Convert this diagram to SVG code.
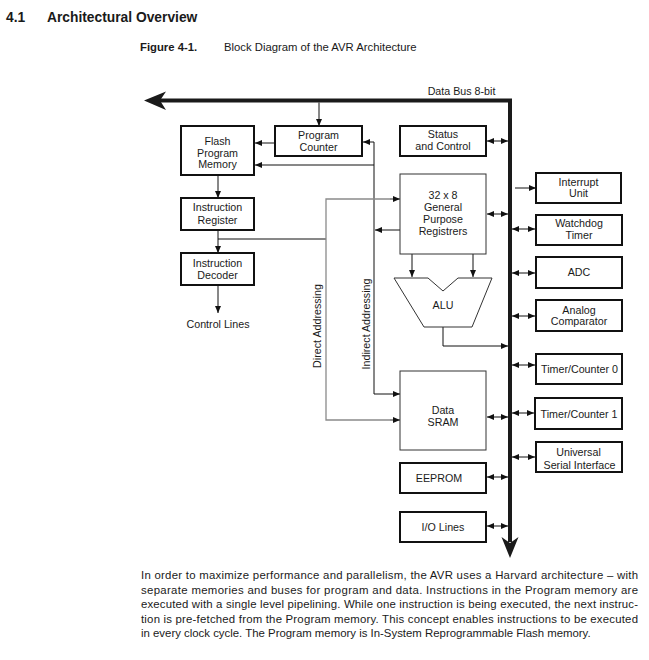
<svg xmlns="http://www.w3.org/2000/svg" width="649" height="660" viewBox="0 0 649 660">
<style>
  text { font-family: "Liberation Sans", Arial, sans-serif; fill: #1a1a1a; }
  .t { font-size: 10.7px; text-anchor: middle; }
  .box { fill: #fff; stroke: #111; stroke-width: 2; }
  .thin { fill: #fff; stroke: #333; stroke-width: 1; }
  .ln { fill: none; stroke: #111; stroke-width: 1; }
  .gr { fill: none; stroke: #8a8a8a; stroke-width: 1.3; }
  .bus { fill: none; stroke: #1a1a1a; stroke-width: 4; }
  .para { font-size: 11.4px; }
</style>
<defs>
  <marker id="ah" markerUnits="userSpaceOnUse" markerWidth="8" markerHeight="6" refX="7" refY="3" orient="auto-start-reverse">
    <path d="M0,0 L7,3 L0,6 z" fill="#111"/>
  </marker>
</defs>
<rect width="649" height="660" fill="#fff"/>

<g id="heading">
  <text x="6" y="22" style="font-size:13.8px;font-weight:bold">4.1</text>
  <text x="47" y="22" style="font-size:13.8px;font-weight:bold">Architectural Overview</text>
  <text x="140" y="51" style="font-size:11.3px;font-weight:bold">Figure 4-1.</text>
  <text x="224" y="51" style="font-size:11.3px">Block Diagram of the AVR Architecture</text>
</g>

<g id="connectors">
  <!-- data bus -->
  <path class="bus" d="M160,100.5 H510 V542"/>
  <polygon points="144,100.5 166,91.5 160,100.5 166,110" fill="#1a1a1a"/>
  <polygon points="510,558 501.5,537 510,543 518.5,537" fill="#1a1a1a"/>
  <text class="t" x="461.5" y="95">Data Bus 8-bit</text>

  <!-- bus to program counter -->
  <line class="ln" x1="319" y1="102.5" x2="319" y2="126" marker-end="url(#ah)"/>
  <!-- PC to flash -->
  <line class="ln" x1="275" y1="143" x2="255" y2="143" marker-end="url(#ah)"/>
  <!-- indirect addressing -->
  <path class="ln" d="M374,142 V394"/>
  <line class="ln" x1="374" y1="142" x2="363" y2="142" marker-end="url(#ah)"/>
  <line class="ln" x1="374" y1="165" x2="255" y2="165" marker-end="url(#ah)"/>
  <line class="ln" x1="374" y1="394" x2="400" y2="394" marker-end="url(#ah)"/>
  <line class="ln" x1="400" y1="230" x2="375" y2="230" marker-end="url(#ah)"/>
  <!-- flash to IR, IR to ID, ID to control lines -->
  <line class="ln" x1="218" y1="175" x2="218" y2="198" marker-end="url(#ah)"/>
  <line class="ln" x1="218" y1="230" x2="218" y2="253" marker-end="url(#ah)"/>
  <line class="ln" x1="218" y1="285" x2="218" y2="313" marker-end="url(#ah)"/>
  <!-- direct addressing -->
  <line class="ln" x1="218" y1="239" x2="326" y2="239"/>
  <path class="gr" d="M400,199 H326 V420 H400"/>
  <line class="gr" x1="390" y1="199" x2="400" y2="199" marker-end="url(#ah)"/>
  <line class="gr" x1="390" y1="420" x2="400" y2="420" marker-end="url(#ah)"/>
  <!-- registers to ALU -->
  <line class="ln" x1="412" y1="254" x2="412" y2="277" marker-end="url(#ah)"/>
  <line class="ln" x1="473" y1="254" x2="473" y2="277" marker-end="url(#ah)"/>
  <!-- ALU to bus -->
  <path class="ln" d="M443,327 V346 H508" stroke="#555" marker-end="url(#ah)"/>
  <!-- left bidirectional -->
  <line class="ln" x1="487" y1="141" x2="508" y2="141" marker-start="url(#ah)" marker-end="url(#ah)"/>
  <line class="ln" x1="487" y1="214" x2="508" y2="214" marker-start="url(#ah)" marker-end="url(#ah)"/>
  <line class="ln" x1="487" y1="417" x2="508" y2="417" marker-start="url(#ah)" marker-end="url(#ah)"/>
  <line class="ln" x1="487" y1="477" x2="508" y2="477" marker-start="url(#ah)" marker-end="url(#ah)"/>
  <line class="ln" x1="487" y1="526" x2="508" y2="526" marker-start="url(#ah)" marker-end="url(#ah)"/>
  <!-- right side -->
  <line class="ln" x1="515" y1="188" x2="536" y2="188" marker-end="url(#ah)"/>
  <line class="ln" x1="512" y1="229" x2="535" y2="229" marker-start="url(#ah)" marker-end="url(#ah)"/>
  <line class="ln" x1="512" y1="273" x2="535" y2="273" marker-start="url(#ah)" marker-end="url(#ah)"/>
  <line class="ln" x1="512" y1="316" x2="535" y2="316" marker-start="url(#ah)" marker-end="url(#ah)"/>
  <line class="ln" x1="512" y1="365" x2="535" y2="365" marker-start="url(#ah)" marker-end="url(#ah)"/>
  <line class="ln" x1="512" y1="413" x2="534" y2="413" marker-start="url(#ah)" marker-end="url(#ah)"/>
  <line class="ln" x1="512" y1="457" x2="535" y2="457" marker-start="url(#ah)" marker-end="url(#ah)"/>
  <!-- rotated labels -->
  <text class="t" transform="translate(321,326) rotate(-90)">Direct Addressing</text>
  <text class="t" transform="translate(370,324) rotate(-90)">Indirect Addressing</text>
  <text class="t" x="218" y="328">Control Lines</text>
</g>

<g id="program-counter">
  <rect class="box" x="275" y="126" width="87" height="30"/>
  <text class="t" x="318.5" y="139">Program</text>
  <text class="t" x="318.5" y="151">Counter</text>
</g>
<g id="flash">
  <rect class="box" x="181" y="126" width="73" height="49"/>
  <text class="t" x="217.5" y="145">Flash</text>
  <text class="t" x="217.5" y="157">Program</text>
  <text class="t" x="217.5" y="168">Memory</text>
</g>
<g id="instruction-register">
  <rect class="box" x="181" y="198" width="73" height="32"/>
  <text class="t" x="217.5" y="211">Instruction</text>
  <text class="t" x="217.5" y="224">Register</text>
</g>
<g id="instruction-decoder">
  <rect class="box" x="181" y="253" width="73" height="32"/>
  <text class="t" x="217.5" y="267">Instruction</text>
  <text class="t" x="217.5" y="279">Decoder</text>
</g>
<g id="status">
  <rect class="box" x="400" y="126" width="86" height="30"/>
  <text class="t" x="443" y="138">Status</text>
  <text class="t" x="443" y="150">and Control</text>
</g>
<g id="registers">
  <rect class="thin" x="400" y="174" width="86" height="80"/>
  <text class="t" x="443" y="199">32 x 8</text>
  <text class="t" x="443" y="211">General</text>
  <text class="t" x="443" y="223">Purpose</text>
  <text class="t" x="443" y="235">Registrers</text>
</g>
<g id="alu">
  <polygon class="thin" points="394,278 428,278 443,291 458,278 492,278 472,327 424,327"/>
  <text class="t" x="443" y="309">ALU</text>
</g>
<g id="sram">
  <rect class="thin" x="400" y="371" width="86" height="79"/>
  <text class="t" x="443" y="414">Data</text>
  <text class="t" x="443" y="426">SRAM</text>
</g>
<g id="eeprom">
  <rect class="box" x="400" y="463" width="86" height="30"/>
  <text class="t" x="439" y="482">EEPROM</text>
</g>
<g id="io-lines">
  <rect class="box" x="400" y="512" width="86" height="30"/>
  <text class="t" x="443" y="531">I/O Lines</text>
</g>
<g id="interrupt">
  <rect class="box" x="536" y="173" width="85" height="30"/>
  <text class="t" x="578.5" y="186">Interrupt</text>
  <text class="t" x="578.5" y="197">Unit</text>
</g>
<g id="watchdog">
  <rect class="box" x="536" y="215" width="86" height="30"/>
  <text class="t" x="579" y="227">Watchdog</text>
  <text class="t" x="579" y="239">Timer</text>
</g>
<g id="adc">
  <rect class="box" x="536" y="257" width="86" height="31"/>
  <text class="t" x="579" y="276">ADC</text>
</g>
<g id="comparator">
  <rect class="box" x="536" y="300" width="86" height="31"/>
  <text class="t" x="579" y="314">Analog</text>
  <text class="t" x="579" y="325">Comparator</text>
</g>
<g id="timer0">
  <rect class="box" x="536" y="354" width="86" height="30"/>
  <text class="t" x="579.5" y="373">Timer/Counter 0</text>
</g>
<g id="timer1">
  <rect class="box" x="535" y="398" width="87" height="31"/>
  <text class="t" x="579" y="418">Timer/Counter 1</text>
</g>
<g id="usi">
  <rect class="box" x="536" y="442" width="86" height="30"/>
  <text class="t" x="578.5" y="456">Universal</text>
  <text class="t" x="579.5" y="469">Serial Interface</text>
</g>

<g id="paragraph">
  <text class="para" x="141" y="579" textLength="497" lengthAdjust="spacing">In order to maximize performance and parallelism, the AVR uses a Harvard architecture – with</text>
  <text class="para" x="141" y="593.5" textLength="497" lengthAdjust="spacing">separate memories and buses for program and data. Instructions in the Program memory are</text>
  <text class="para" x="141" y="608" textLength="497" lengthAdjust="spacing">executed with a single level pipelining. While one instruction is being executed, the next instruc-</text>
  <text class="para" x="141" y="622.5" textLength="497" lengthAdjust="spacing">tion is pre-fetched from the Program memory. This concept enables instructions to be executed</text>
  <text class="para" x="141" y="637">in every clock cycle. The Program memory is In-System Reprogrammable Flash memory.</text>
</g>
</svg>
